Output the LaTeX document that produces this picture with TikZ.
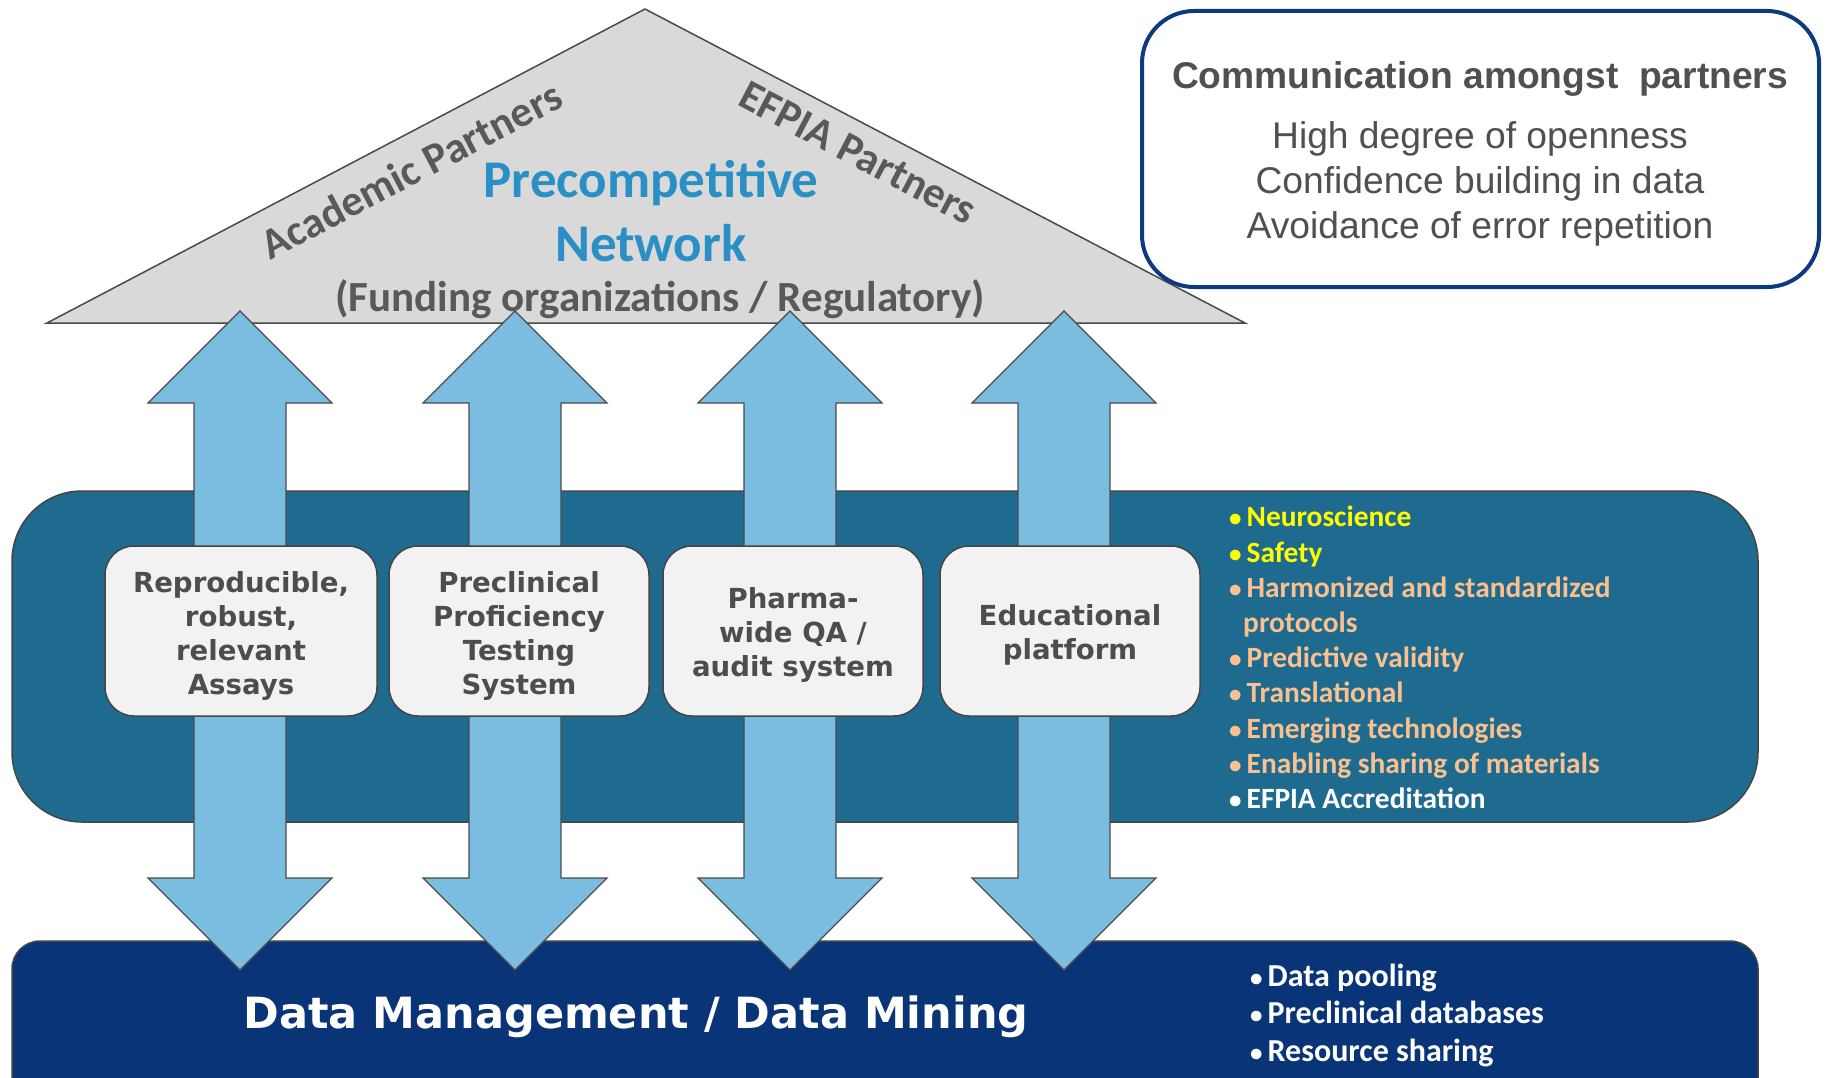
\documentclass[tikz,border=0pt]{standalone}
\usepackage{fontspec}
\setmainfont{Liberation Sans}
\newfontfamily\calfont{Carlito}
\newfontfamily\dvfont{DejaVu Sans}
\definecolor{trifill}{HTML}{D9D9D9}
\definecolor{triline}{HTML}{4A4A4A}
\definecolor{commblue}{HTML}{0C3A80}
\definecolor{bandteal}{HTML}{1F6A8F}
\definecolor{bandnavy}{HTML}{0A3478}
\definecolor{bandline}{HTML}{454545}
\definecolor{arrblue}{HTML}{7ABDE0}
\definecolor{boxfill}{HTML}{F2F2F2}
\definecolor{txtgray}{HTML}{4D4D4D}
\definecolor{trigray}{HTML}{595959}
\definecolor{commgray}{HTML}{505050}
\definecolor{netblue}{HTML}{2A8FC4}
\definecolor{peach}{HTML}{FAC090}
\definecolor{yel}{HTML}{FFFF00}
\newcommand{\bulmark}{{\fontsize{25}{25}\selectfont •}\hspace{5pt}}
\tikzset{
  tri/.style={fill=trifill, draw=triline, line width=1.5pt},
  arr/.style={fill=arrblue, draw=triline, line width=1.2pt},
  pillar/.style={draw=bandline, fill=boxfill, line width=1.5pt, rounded corners=29pt, minimum height=170pt, inner sep=0pt},
  pilltxt/.style={align=center, text=txtgray, font=\dvfont\bfseries\fontsize{27.6}{34}\selectfont, inner sep=0pt},
  bul/.style={anchor=base west, inner sep=0pt, font=\calfont\bfseries\fontsize{29.4}{34}\selectfont},
  bulb/.style={anchor=base west, inner sep=0pt, text=white, font=\calfont\bfseries\fontsize{32}{36}\selectfont},
  commtxt/.style={anchor=base, inner sep=0pt, text=commgray, font=\fontsize{37.2}{44}\selectfont},
}
\begin{document}
\begin{tikzpicture}[x=1pt,y=-1pt]
\useasboundingbox (0,0) rectangle (1828,1078);
\clip (0,0) rectangle (1828,1078);
% roof
\draw[tri] (47,323) -- (645,9) -- (1245,323) -- cycle;
% communication box
\draw[line width=4pt, draw=commblue, fill=white, rounded corners=52pt] (1142,11) rectangle (1819,287);
\node[commtxt, font=\bfseries\fontsize{37.2}{44}\selectfont] (ctitle) at (1480,89) {Communication amongst\ \ partners};
\node[commtxt] (c1) at (1480,149) {High degree of openness};
\node[commtxt] (c2) at (1480,194) {Confidence building in data};
\node[commtxt] (c3) at (1480,238) {Avoidance of error repetition};
% bands
\draw[fill=bandteal, draw=bandline, line width=1.5pt, rounded corners=70pt] (12,491) rectangle (1758,822);
\draw[fill=bandnavy, draw=bandline, line width=1.5pt, rounded corners=28pt] (12,941) rectangle (1758,1130);
% double arrows
\foreach \c in {240,515,790,1064}{
  \draw[arr] (\c,311) -- ({\c+92},403) -- ({\c+46},403) -- ({\c+46},878) -- ({\c+92},878) -- (\c,970)
    -- ({\c-92},878) -- ({\c-46},878) -- ({\c-46},403) -- ({\c-92},403) -- cycle;
}
% pillars
\node[pillar, minimum width=272pt] (p1) at (241,631) {};
\node[pillar, minimum width=260pt] (p2) at (519,631) {};
\node[pillar, minimum width=260pt] (p3) at (793,631) {};
\node[pillar, minimum width=260pt] (p4) at (1070,631) {};
\node[pilltxt] (t1) at (241,635.5) {Reproducible,\\robust,\\relevant\\Assays};
\node[pilltxt] (t2) at (519,635.5) {Preclinical\\Proficiency\\Testing\\System};
\node[pilltxt] (t3) at (793,635) {Pharma-\\wide QA /\\audit system};
\node[pilltxt] (t4) at (1070,635) {Educational\\platform};
% roof texts
\node[rotate=27.7, text=trigray, font=\calfont\bfseries\fontsize{43}{48}\selectfont, inner sep=0pt] (acad) at (411,170) {Academic Partners};
\node[rotate=-27.7, text=trigray, font=\calfont\bfseries\fontsize{43}{48}\selectfont, inner sep=0pt] (efpia) at (858,153) {EFPIA Partners};
\node[anchor=base, inner sep=0pt, text=netblue, font=\calfont\bfseries\fontsize{53}{56}\selectfont] (pre) at (651,198) {Precompetitive};
\node[anchor=base, inner sep=0pt, text=netblue, font=\calfont\bfseries\fontsize{53}{56}\selectfont] (net) at (651,261) {Network};
\node[anchor=base, inner sep=0pt, text=trigray, font=\calfont\bfseries\fontsize{43}{48}\selectfont] (fund) at (660,311) {(Funding organizations / Regulatory)};
% teal band bullets
\node[bul, text=yel] (b1) at (1229,526) {\bulmark Neuroscience};
\node[bul, text=yel] (b2) at (1229,562) {\bulmark Safety};
\node[bul, text=peach] (b3) at (1229,597) {\bulmark Harmonized and standardized};
\node[bul, text=peach] (b4) at (1243,632) {protocols};
\node[bul, text=peach] (b5) at (1229,667) {\bulmark Predictive validity};
\node[bul, text=peach] (b6) at (1229,702) {\bulmark Translational};
\node[bul, text=peach] (b7) at (1229,738) {\bulmark Emerging technologies};
\node[bul, text=peach] (b8) at (1229,773) {\bulmark Enabling sharing of materials};
\node[bul, text=white] (b9) at (1229,808) {\bulmark EFPIA Accreditation};
% navy band
\node[text=white, inner sep=0pt, font=\dvfont\bfseries\fontsize{43}{48}\selectfont] (dm) at (636,1017) {Data Management / Data Mining};
\node[bulb] (d1) at (1250,986) {\bulmark Data pooling};
\node[bulb] (d2) at (1250,1023) {\bulmark Preclinical databases};
\node[bulb] (d3) at (1250,1061) {\bulmark Resource sharing};
\end{tikzpicture}
\end{document}
